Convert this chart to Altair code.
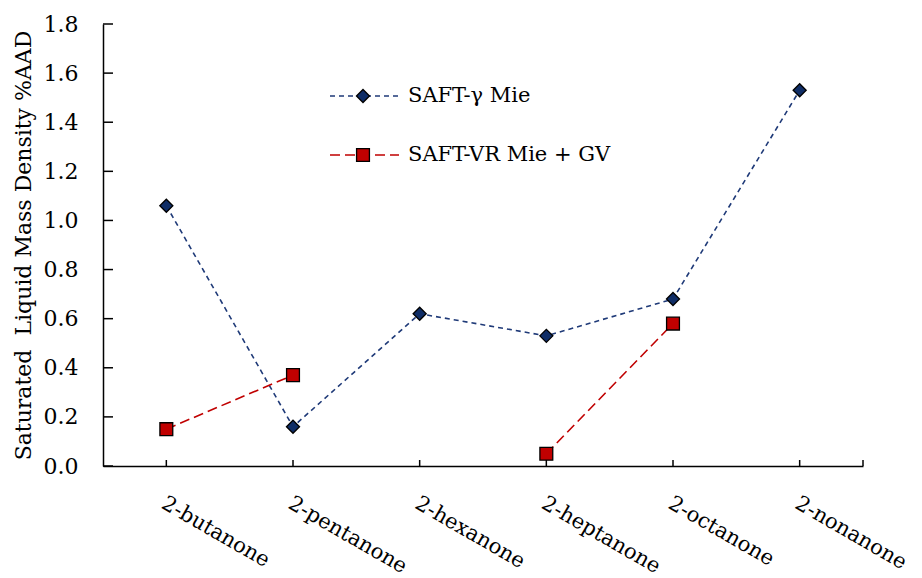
import altair as alt
import pandas as pd

compounds = ["2-butanone", "2-pentanone", "2-hexanone", "2-heptanone", "2-octanone", "2-nonanone"]
saft_gamma_mie = [1.06, 0.16, 0.62, 0.53, 0.68, 1.53]
saft_vr_mie_gv = [0.15, 0.37, None, 0.05, 0.58, None]
series_names = ["SAFT-γ Mie", "SAFT-VR Mie + GV"]
y_tick_values = [0.0, 0.2, 0.4, 0.6, 0.8, 1.0, 1.2, 1.4, 1.6, 1.8]
y_title = "Saturated\u00a0 Liquid Mass Density %AAD"

NAVY = "#0F2D66"
NAVY_LINE = "#1F3A78"
RED = "#C00000"
FONT = "DejaVu Serif"

rows = []
for name, vals in zip(series_names, [saft_gamma_mie, saft_vr_mie_gv]):
    seg = 0
    for c, v in zip(compounds, vals):
        if v is None:
            seg += 1
            continue
        rows.append({"compound": c, "value": v, "series": name, "seg": f"{name}-{seg}"})
df = pd.DataFrame(rows)

W, H = 760, 442

x_enc = alt.X(
    "compound:N",
    sort=compounds,
    scale=alt.Scale(type="point", domain=compounds, padding=0.5),
    axis=alt.Axis(
        title=None, labelAngle=30, labelAlign="left", labelBaseline="top",
        labelPadding=26, labelOffset=2, ticks=False, grid=False,
        domainColor="black", domainWidth=1.5, labelColor="black",
        labelFont=FONT, labelFontSize=21,
    ),
)
y_enc = alt.Y(
    "value:Q",
    scale=alt.Scale(domain=[0, 1.8], nice=False, zero=True),
    axis=alt.Axis(
        title=y_title, values=y_tick_values, format=".1f", ticks=False, grid=False,
        domainColor="black", domainWidth=1.5, labelColor="black",
        labelFont=FONT, labelFontSize=22, labelPadding=25,
        titleFont=FONT, titleFontSize=22, titleFontWeight="normal", titleColor="black",
        titleX=-80, titleY=H / 2, titleAngle=270,
        titleAlign="center", titleBaseline="middle",
    ),
)

color_scale = alt.Scale(domain=series_names, range=[NAVY_LINE, RED])
fill_scale = alt.Scale(domain=series_names, range=[NAVY, RED])
dash_scale = alt.Scale(domain=series_names, range=[[5, 4], [10, 5]])
shape_scale = alt.Scale(domain=series_names, range=["diamond", "square"])
size_scale = alt.Scale(domain=series_names, range=[170, 165])

lines = alt.Chart(df).mark_line(strokeWidth=1.6).encode(
    x=x_enc, y=y_enc,
    color=alt.Color("series:N", scale=color_scale, legend=None),
    strokeDash=alt.StrokeDash("series:N", scale=dash_scale, legend=None),
    detail="seg:N",
)

points = alt.Chart(df).mark_point(filled=True, opacity=1, strokeWidth=1.3).encode(
    x=x_enc, y=y_enc,
    fill=alt.Fill("series:N", scale=fill_scale, legend=None),
    stroke=alt.value("black"),
    shape=alt.Shape("series:N", scale=shape_scale, legend=None),
    size=alt.Size("series:N", scale=size_scale, legend=None),
)

xticks = alt.Chart(pd.DataFrame({"compound": compounds})).mark_rule(
    color="black", strokeWidth=1.5
).encode(x=x_enc, y=alt.value(H), y2=alt.value(H - 6))

end_tick = alt.Chart(pd.DataFrame({"compound": [compounds[0]]})).mark_rule(
    color="black", strokeWidth=1.5
).encode(x=alt.value(W), y=alt.value(H), y2=alt.value(H - 6))

yticks = alt.Chart(pd.DataFrame({"value": y_tick_values})).mark_rule(
    color="black", strokeWidth=1.5
).encode(y=y_enc, x=alt.value(0), x2=alt.value(10))

# legend
legend_layers = []
leg_y = [72, 131]
leg_dash = [[5, 4], [10, 5]]
leg_col = [NAVY_LINE, RED]
leg_fill = [NAVY, RED]
leg_shape = ["diamond", "square"]
leg_size = [170, 165]
for i, name in enumerate(series_names):
    ldf = pd.DataFrame({"series": [name]})
    legend_layers.append(
        alt.Chart(ldf).mark_rule(strokeWidth=1.6, strokeDash=leg_dash[i], color=leg_col[i]).encode(
            x=alt.value(227), x2=alt.value(296), y=alt.value(leg_y[i])
        )
    )
    legend_layers.append(
        alt.Chart(ldf).mark_point(filled=True, opacity=1, fill=leg_fill[i], stroke="black",
                                  strokeWidth=1.3, shape=leg_shape[i], size=leg_size[i]).encode(
            x=alt.value(260), y=alt.value(leg_y[i])
        )
    )
    legend_layers.append(
        alt.Chart(ldf).mark_text(align="left", baseline="middle", font=FONT, fontSize=21,
                                 color="black").encode(
            x=alt.value(305), y=alt.value(leg_y[i]), text="series:N"
        )
    )

chart = alt.layer(xticks, end_tick, yticks, lines, points, *legend_layers).properties(
    width=W, height=H,
    autosize=alt.AutoSizeParams(type="none"),
    padding={"left": 103, "top": 24, "right": 59, "bottom": 112},
    background="white",
).configure_view(stroke=None)

chart.save("out.html", embed_options={"renderer": "svg", "actions": False})
